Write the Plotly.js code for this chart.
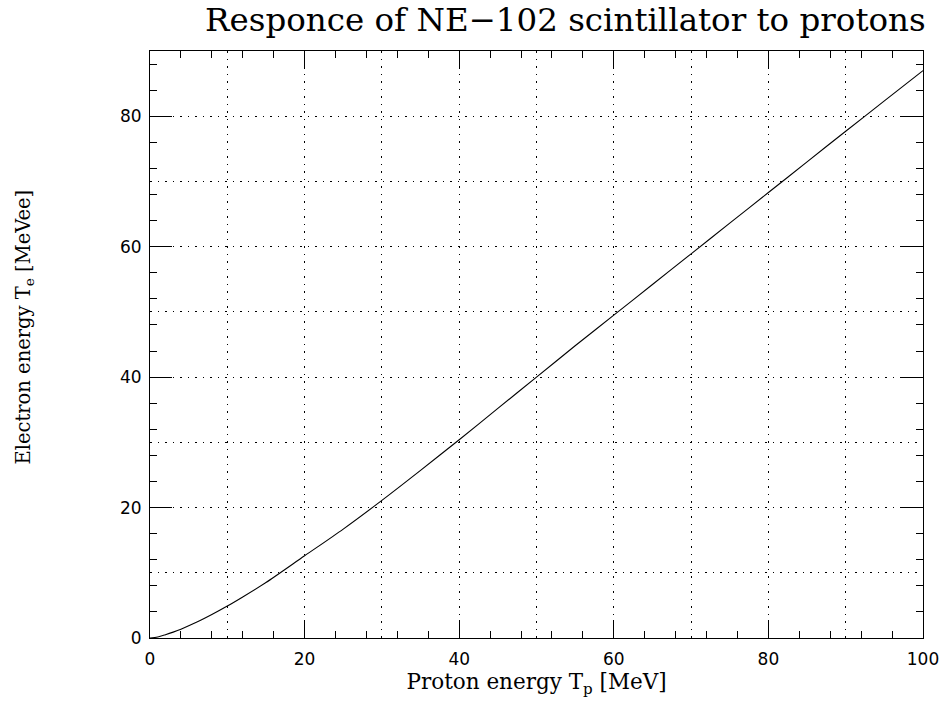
<!DOCTYPE html>
<html>
<head>
<meta charset="utf-8">
<script src="https://cdn.plot.ly/plotly-3.0.1.min.js"></script>
<style>html,body{margin:0;padding:0;background:#fff;}#chart{width:947px;height:706px;}</style>
</head>
<body>
<div id="chart"></div>
<script>
// Proton energy T_p [MeV]
const protonEnergy = [0, 1, 2, 3, 4, 6, 8, 10, 12, 15, 20, 25, 30, 35, 40, 45, 50, 55, 60, 65, 70, 75, 80, 85, 90, 95, 100];
// Electron-equivalent energy T_e [MeVee]
const electronEnergy = [0, 0.15, 0.5, 0.9, 1.35, 2.4, 3.6, 4.9, 6.3, 8.5, 12.6, 16.7, 21.1, 25.7, 30.4, 35.2, 40.0, 44.8, 49.5, 54.2, 58.9, 63.6, 68.3, 73.0, 77.7, 82.35, 87.0];

const serif = 'DejaVu Serif, serif';
const sans = 'DejaVu Sans, sans-serif';

const traces = [
  {x: protonEnergy, y: electronEnergy, type: 'scatter', mode: 'lines',
   line: {color: '#000', width: 1.1, shape: 'spline', smoothing: 0.8}, hoverinfo: 'skip', showlegend: false},
  {x: protonEnergy, y: electronEnergy, xaxis: 'x2', yaxis: 'y2', type: 'scatter', mode: 'lines',
   line: {color: 'rgba(0,0,0,0)', width: 0}, hoverinfo: 'skip', showlegend: false}
];

const mainAxis = {
  showgrid: false, zeroline: false,
  showline: true, linecolor: '#000', linewidth: 1, mirror: 'ticks',
  ticks: 'inside', tickcolor: '#000', tickwidth: 1,
  tickmode: 'linear', tick0: 0, dtick: 20,
  tickfont: {family: sans, size: 17, color: '#000'},
  minor: {ticks: 'inside', dtick: 4, tick0: 0, ticklen: 7, tickcolor: '#000', tickwidth: 1, showgrid: false}
};

const layout = {
  width: 947, height: 706,
  paper_bgcolor: '#fff', plot_bgcolor: '#fff',
  margin: {l: 150, r: 24, t: 51, b: 68},
  title: {text: 'Responce of NE\u2212102 scintillator to protons',
          font: {family: serif, size: 32.5, color: '#000'},
          xref: 'container', x: 0.597, xanchor: 'center',
          yref: 'container', y: 0.972, yanchor: 'middle'},
  xaxis: Object.assign({}, mainAxis, {
    range: [0, 100], ticklen: 18, ticklabelstandoff: 6,
    title: {text: 'Proton energy T<sub>p</sub> [MeV]', font: {family: serif, size: 21.5, color: '#000'}, standoff: 5}
  }),
  yaxis: Object.assign({}, mainAxis, {
    range: [0, 90], ticklen: 22, ticklabelstandoff: 4
  }),
  xaxis2: {overlaying: 'x', anchor: 'y2', range: [0, 100], showgrid: true, gridcolor: '#000', gridwidth: 1,
           griddash: '1.5px,6px', tickmode: 'linear', tick0: 0, dtick: 10,
           showticklabels: false, ticks: '', showline: false, zeroline: false},
  yaxis2: {overlaying: 'y', anchor: 'x2', range: [0, 90], showgrid: true, gridcolor: '#000', gridwidth: 1,
           griddash: '1.5px,6px', tickmode: 'linear', tick0: 0, dtick: 10,
           showticklabels: false, ticks: '', showline: false, zeroline: false},
  annotations: [{
    text: 'Electron energy T<sub>e</sub> [MeVee]', textangle: -90, showarrow: false,
    xref: 'paper', yref: 'paper', x: -126 / 773, y: 0.529, xanchor: 'center', yanchor: 'middle',
    font: {family: serif, size: 19.5, color: '#000'}
  }]
};

Plotly.newPlot('chart', traces, layout, {displayModeBar: false, staticPlot: true});
</script>
</body>
</html>
